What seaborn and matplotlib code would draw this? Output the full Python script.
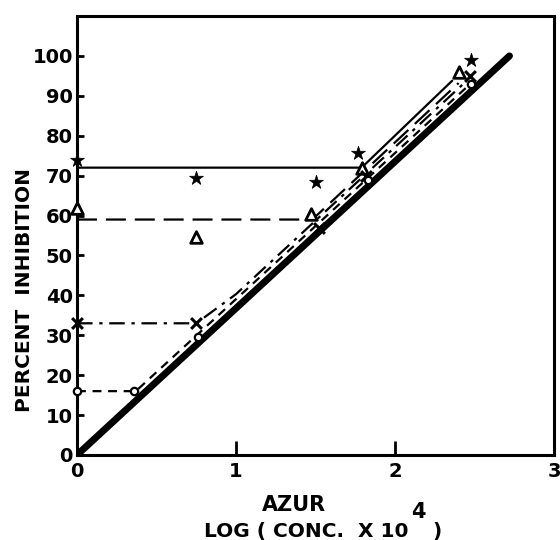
import numpy as np
import pandas as pd
import matplotlib
matplotlib.use("Agg")
import matplotlib.pyplot as plt
import seaborn as sns

# ---- data ----
star_x = [0.0, 0.75, 1.50, 1.77, 2.48]
star_y = [74.0, 69.5, 68.5, 75.7, 99.0]
tri_x = [0.0, 0.75, 1.47, 1.79, 2.40]
tri_y = [62.0, 54.5, 60.5, 72.0, 96.0]
x_x = [0.0, 0.75, 1.52, 1.82, 2.47]
x_y = [33.0, 33.0, 57.0, 70.0, 95.0]
circ_x = [0.0, 0.36, 0.76, 1.83, 2.48]
circ_y = [16.0, 16.0, 29.5, 69.0, 93.0]

# fitted curves (plateau then rising)
star_line_x = [0.0, 1.79, 2.36]
star_line_y = [72.0, 72.0, 93.8]
tri_line_x = [0.0, 1.48, 2.40]
tri_line_y = [59.0, 59.0, 93.2]
x_line_x = [0.0, 0.75, 1.00, 2.43]
x_line_y = [33.0, 33.0, 40.3, 93.0]
circ_line_x = [0.0, 0.37, 2.46]
circ_line_y = [16.0, 16.0, 92.5]
ref_x = [0.0, 2.72]
ref_y = [0.0, 100.0]

x_ticks = [0, 1, 2, 3]
y_ticks = [0, 10, 20, 30, 40, 50, 60, 70, 80, 90, 100]

sns.set_style("ticks")
plt.rcParams['font.family'] = ['DejaVu Sans']
plt.rcParams['font.weight'] = 'bold'
plt.rcParams['text.color'] = 'black'
plt.rcParams['xtick.color'] = 'black'
plt.rcParams['ytick.color'] = 'black'

fig = plt.figure(figsize=(5.6, 5.4), dpi=100)
ax = fig.add_axes([77 / 560, 85 / 540, (554 - 77) / 560, (455 - 16) / 540])

def line(xs, ys, **kw):
    df = pd.DataFrame({"x": xs, "y": ys})
    sns.lineplot(data=df, x="x", y="y", ax=ax, sort=False, estimator=None,
                 color="black", **kw)

line(ref_x, ref_y, linewidth=5.0, solid_capstyle="round")
line(star_line_x, star_line_y, linewidth=1.6)
line(tri_line_x, tri_line_y, linewidth=1.6, dashes=(9, 4))
line(x_line_x, x_line_y, linewidth=1.6, dashes=(7, 3, 1.5, 3))
line(circ_line_x, circ_line_y, linewidth=1.6, dashes=(4, 3))

def pts(xs, ys, **kw):
    df = pd.DataFrame({"x": xs, "y": ys})
    sns.scatterplot(data=df, x="x", y="y", ax=ax, zorder=5, clip_on=False, **kw)

pts(star_x, star_y, marker="*", s=110, color="black", edgecolor="black", linewidth=0.5)
pts(tri_x, tri_y, marker="^", s=70, facecolor="white", edgecolor="black", linewidth=2.0)
pts(x_x, x_y, marker="x", s=60, color="black", linewidth=2.2)
pts(circ_x, circ_y, marker="o", s=28, facecolor="white", edgecolor="black", linewidth=1.6)

ax.set_xlim(0, 3)
ax.set_ylim(0, 110)
ax.set_xticks(x_ticks)
ax.set_yticks(y_ticks)
ax.set_xticklabels([str(t) for t in x_ticks], fontsize=14, fontweight="bold", color="black")
ax.set_yticklabels([str(t) for t in y_ticks], fontsize=14, fontweight="bold", color="black")
ax.tick_params(axis="y", direction="in", length=5, width=2, pad=3)
ax.tick_params(axis="x", direction="in", length=10, width=2, pad=5)
for sp in ax.spines.values():
    sp.set_visible(True)
    sp.set_linewidth(2.2)
    sp.set_color("black")
ax.set_xlabel("")
ax.set_ylabel("")

fig.text(25 / 560, 1 - 290 / 540, "PERCENT  INHIBITION", rotation=90,
         ha="center", va="center", fontsize=14.5, fontweight="heavy", color="black")
fig.text(294 / 560, 1 - 505 / 540, "AZUR", ha="center", va="center",
         fontsize=15, fontweight="heavy", color="black")
fig.text(409 / 560, 1 - 531 / 540, "LOG ( CONC.  X 10", ha="right",
         va="center", fontsize=14.5, fontweight="heavy", color="black")
fig.text(418 / 560, 1 - 512 / 540, "4", ha="center", va="center",
         fontsize=15, fontweight="heavy", color="black")
fig.text(437 / 560, 1 - 531 / 540, ")", ha="center", va="center",
         fontsize=14.5, fontweight="heavy", color="black")

fig.savefig("out.png", dpi=100)
